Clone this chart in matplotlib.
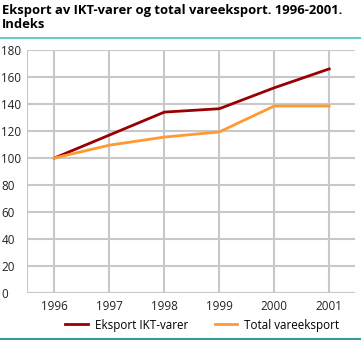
import matplotlib
matplotlib.use("Agg")
import matplotlib.pyplot as plt
from matplotlib.lines import Line2D

# Data
years = [1996, 1997, 1998, 1999, 2000, 2001]
ikt = [100, 117, 134, 136.5, 152, 166]
total = [100, 109.5, 115.5, 119.3, 138.5, 138.5]
labels = ["Eksport IKT-varer", "Total vareeksport"]
yticks = [0, 20, 40, 60, 80, 100, 120, 140, 160, 180]

plt.rcParams['font.family'] = ['Open Sans', 'DejaVu Sans']

fig = plt.figure(figsize=(3.61, 3.40), dpi=100)
ax = fig.add_axes([27 / 361, 1 - 293 / 340, 328 / 361, 243 / 340])

ax.plot(years, ikt, color="#990000", lw=2, zorder=3)
ax.plot(years, total, color="#ff9933", lw=2, zorder=3)

ax.set_xlim(1995.5, 2001.47)
ax.set_ylim(0, 180)
ax.set_xticks(years)
ax.set_yticks(yticks)
ax.grid(True, color="#c8c8c8", lw=1.5)
ax.set_axisbelow(True)
for s in ax.spines.values():
    s.set_visible(False)
ax.axhline(0, color="#c8c8c8", lw=1.5, zorder=1)
ax.axvline(1995.5, color="#c8c8c8", lw=1.5, zorder=1)
ax.tick_params(length=0, labelsize=8.4, colors="#222222", pad=5)
ax.tick_params(axis="y", pad=18.5)
for t in ax.get_yticklabels():
    t.set_ha("left")

# Title and rules
fig.text(0.005, 0.988, "Eksport av IKT-varer og total vareeksport. 1996-2001.\nIndeks",
         ha="left", va="top", fontsize=9.4, fontweight="bold", linespacing=1.1)
fig.add_artist(Line2D([0, 1], [1 - 37.7 / 340] * 2, color="#66cccc", lw=1.5))
fig.add_artist(Line2D([0, 1], [1 - 339 / 340] * 2, color="#339999", lw=1.5))

# Legend
handles = [Line2D([], [], color="#990000", lw=2), Line2D([], [], color="#ff9933", lw=2)]
fig.legend(handles, labels, loc="center", bbox_to_anchor=(0.56, 1 - 325 / 340), ncol=2,
           frameon=False, fontsize=8.4, handlelength=1.9, columnspacing=2.3, handletextpad=0.6)

fig.savefig("out.png", dpi=100)
